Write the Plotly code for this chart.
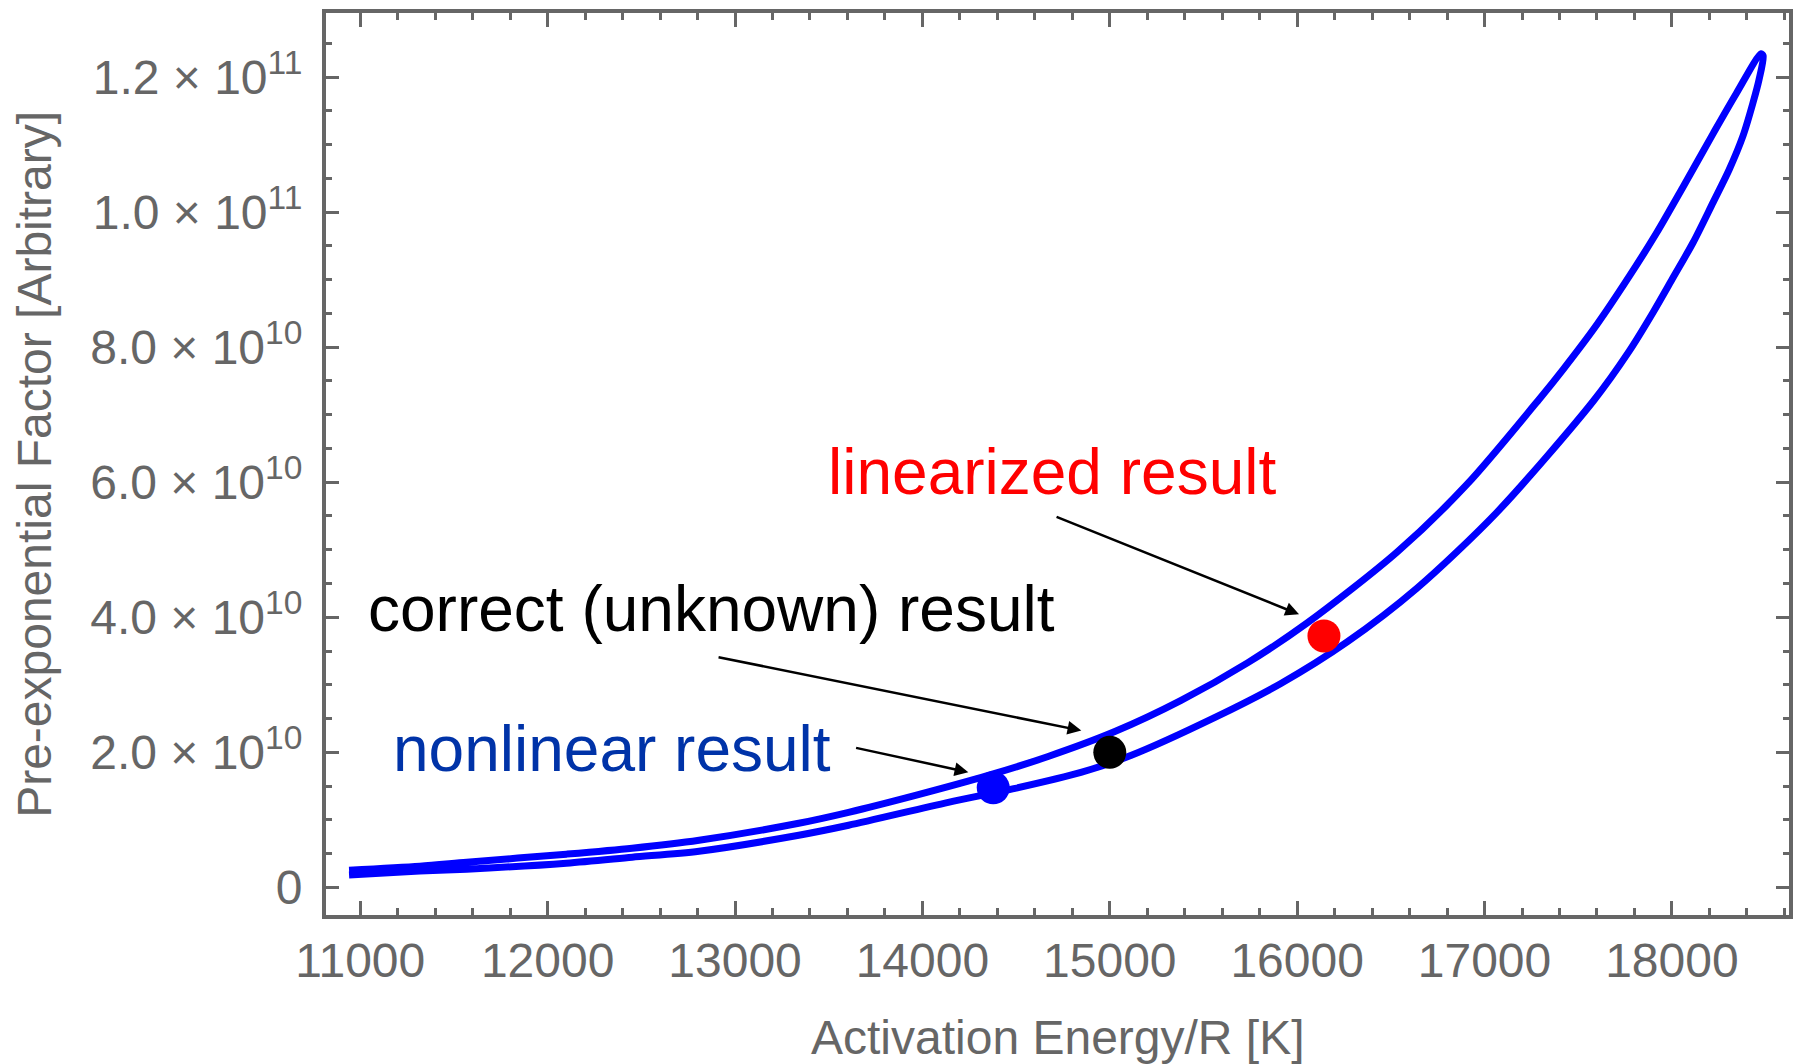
import plotly.graph_objects as go

# ---------------- data ----------------
# Upper branch of the confidence contour, left end -> right tip
E_upper = [10940, 11318, 11568, 12100, 12451, 12808, 13340, 13606, 13963, 14351,
           14671, 15027, 15378, 15735, 16054, 16533, 16906, 17294, 17422, 17598,
           17773, 17917, 18061, 18220, 18343, 18476]
A_upper = [0.255e10, 0.314e10, 0.373e10, 0.492e10, 0.580e10, 0.698e10, 0.949e10, 1.111e10,
           1.362e10, 1.658e10, 1.938e10, 2.307e10, 2.765e10, 3.325e10, 3.916e10, 4.964e10,
           5.967e10, 7.237e10, 7.680e10, 8.329e10, 9.052e10, 9.687e10, 10.381e10, 11.163e10,
           11.753e10, 12.344e10]
# Lower branch, right tip -> left end
E_lower = [18487, 18465, 18433, 18380, 18306, 18220, 18114, 18008, 17901, 17773,
           17582, 17066, 16640, 16267, 15911, 15559, 15112, 14846, 14495, 14138,
           13606, 13340, 12808, 12451, 12100, 11568, 11318, 10940]
A_lower = [12.314e10, 11.960e10, 11.621e10, 11.133e10, 10.632e10, 10.145e10, 9.554e10,
           9.038e10, 8.521e10, 7.945e10, 7.207e10, 5.554e10, 4.432e10, 3.635e10, 3.016e10,
           2.514e10, 1.953e10, 1.702e10, 1.466e10, 1.259e10, 0.920e10, 0.772e10, 0.536e10,
           0.447e10, 0.359e10, 0.270e10, 0.241e10, 0.182e10]

# Result points
nonlinear_pt = (14378, 1.476e10)
correct_pt = (15000, 2.0e10)
linearized_pt = (16143, 3.724e10)

# Tick values / labels
x_tick_vals = [11000, 12000, 13000, 14000, 15000, 16000, 17000, 18000]
x_tick_text = ["11000", "12000", "13000", "14000", "15000", "16000", "17000", "18000"]
y_tick_vals = [0, 2e10, 4e10, 6e10, 8e10, 10e10, 12e10]
y_tick_text = ["0", "2.0 × 10<sup>10</sup>", "4.0 × 10<sup>10</sup>", "6.0 × 10<sup>10</sup>",
               "8.0 × 10<sup>10</sup>", "1.0 × 10<sup>11</sup>", "1.2 × 10<sup>11</sup>"]

# ---------------- figure ----------------
FRAME = "#666666"
FONT = "Liberation Sans, Arial, sans-serif"

contour_E = E_upper + E_lower
contour_A = A_upper + A_lower

fig = go.Figure()
fig.add_trace(go.Scatter(
    x=contour_E, y=contour_A, mode="lines",
    line=dict(color="#0000ff", width=7, shape="spline", smoothing=0.8),
    hoverinfo="skip"))

fig.add_trace(go.Scatter(
    x=[nonlinear_pt[0]], y=[nonlinear_pt[1]], mode="markers",
    marker=dict(color="#0000ff", size=33, line=dict(width=0))))
fig.add_trace(go.Scatter(
    x=[correct_pt[0]], y=[correct_pt[1]], mode="markers",
    marker=dict(color="#000000", size=33, line=dict(width=0))))
fig.add_trace(go.Scatter(
    x=[linearized_pt[0]], y=[linearized_pt[1]], mode="markers",
    marker=dict(color="#ff0000", size=33, line=dict(width=0))))

# Text labels
labels = [
    ("linearized result", 14692, 6.159e10, "#ff0000"),
    ("correct (unknown) result", 12874, 4.122e10, "#000000"),
    ("nonlinear result", 12342, 2.056e10, "#0033a8"),
]
for txt, x, y, col in labels:
    fig.add_annotation(x=x, y=y, xref="x", yref="y", text=txt, showarrow=False,
                       xanchor="center", yanchor="middle",
                       font=dict(family=FONT, size=64, color=col))

# Arrows (tip, tail)
arrows = [
    ((16010, 4.044e10), (14708, 5.495e10)),
    ((14848, 2.322e10), (12904, 3.414e10)),
    ((14245, 1.706e10), (13638, 2.071e10)),
]
for (tx, ty), (sx, sy) in arrows:
    fig.add_annotation(x=tx, y=ty, ax=sx, ay=sy, xref="x", yref="y", axref="x", ayref="y",
                       text="", showarrow=True, arrowhead=2, arrowsize=1.1,
                       arrowwidth=2.5, arrowcolor="#000000", standoff=0)

# Axis titles
fig.add_annotation(x=0.5, y=-0.136, xref="paper", yref="paper",
                   text="Activation Energy/R [K]", showarrow=False,
                   xanchor="center", yanchor="middle",
                   font=dict(family=FONT, size=48, color=FRAME))
fig.add_annotation(x=-0.1997, y=0.5, xref="paper", yref="paper",
                   text="Pre-exponential Factor [Arbitrary]", showarrow=False,
                   textangle=-90, xanchor="center", yanchor="middle",
                   font=dict(family=FONT, size=48, color=FRAME))

axis_common = dict(
    showline=True, linewidth=4, linecolor=FRAME, mirror="allticks",
    ticks="inside", tickwidth=3, tickcolor=FRAME,
    showgrid=False, zeroline=False,
    tickfont=dict(family=FONT, size=48, color=FRAME),
)

fig.update_xaxes(
    range=[10817, 18625], tickmode="array", tickvals=x_tick_vals, ticktext=x_tick_text,
    ticklen=14,
    minor=dict(tickmode="linear", tick0=11000, dtick=200, ticks="inside",
               ticklen=7, tickwidth=3, tickcolor=FRAME, showgrid=False),
    **axis_common)
fig.update_yaxes(
    range=[-0.409e10, 12.949e10], tickmode="array", tickvals=y_tick_vals, ticktext=y_tick_text,
    ticklen=13, ticklabelstandoff=10,
    minor=dict(tickmode="linear", tick0=0, dtick=0.5e10, ticks="inside",
               ticklen=6, tickwidth=3, tickcolor=FRAME, showgrid=False),
    **axis_common)

fig.update_layout(
    width=1802, height=1064,
    margin=dict(l=326, r=9, t=10, b=149, pad=0),
    paper_bgcolor="white", plot_bgcolor="white",
    showlegend=False,
    font=dict(family=FONT),
)

fig.write_html("out.html")
